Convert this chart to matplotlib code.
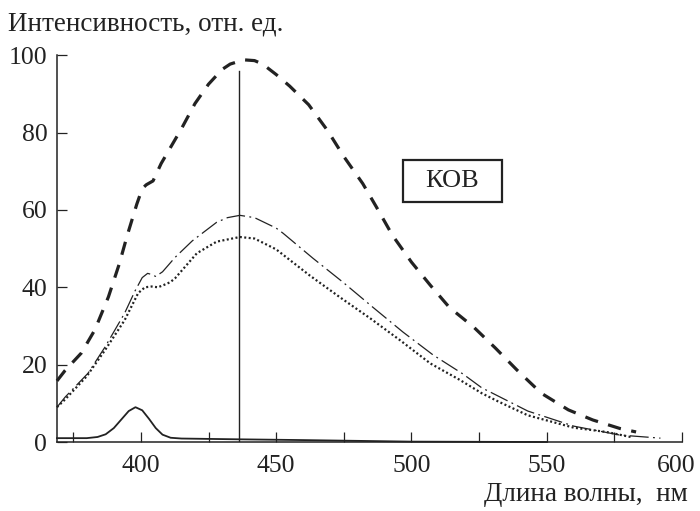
# emission spectra, KOV sample

import matplotlib.pyplot as plt
import matplotlib.transforms as mtransforms
from matplotlib.patches import Rectangle

plt.rcParams['font.family'] = ['Liberation Serif', 'DejaVu Serif']

# thick dashed curve
dash_x = [369, 372, 378, 383, 388, 392, 395, 398.5, 400.5, 402, 404.5, 407.5, 410, 415, 420, 425,
          430, 433, 438, 442, 445, 450, 455, 462, 469, 475, 482, 487, 493, 500, 507, 514, 523,
          531, 539, 548, 558, 567, 577, 583]
dash_y = [15.8, 18.5, 23, 29, 37.5, 46, 53.5, 61.5, 65.5, 66.5, 67.5, 72, 75, 81, 87.5, 92.5,
          96.3, 97.7, 98.8, 98.6, 97.7, 95, 92, 87.2, 80.5, 73.8, 66.8, 60.8, 53.4, 46.5, 40.5,
          34.8, 29.7, 24.3, 18.6, 12.6, 8.3, 5.7, 3.5, 2.6]

# dash-dot curve
dd_x = [369, 372, 380.5, 386.7, 394, 397.8, 400.5, 402.5, 404, 405.5, 408, 410, 412.6, 419, 428,
        432, 436.6, 442, 450, 452.5, 463.6, 474.7, 485.8, 496.9, 508, 519, 526, 530, 543, 560,
        577, 592]
dd_y = [9, 11.6, 17.8, 24.5, 33.3, 39, 42.5, 43.6, 43.3, 42.8, 44, 45.6, 47.7, 52, 56.8, 58,
        58.6, 58, 55.3, 54, 47.5, 41.3, 34.8, 28.4, 22.5, 17.6, 14, 12.6, 8, 4.1, 1.8, 1.0]

# dotted curve
dot_x = [369, 372, 380, 386.7, 394, 399, 401.5, 404, 406.3, 408.5, 410.8, 412.6, 420.7, 428,
         436.6, 442, 450, 462.5, 473.6, 484.7, 495.8, 507, 518, 526, 532, 543, 560, 572, 581]
dot_y = [9, 11, 17, 23.7, 31.5, 38.5, 40, 40.2, 40, 40.6, 41.3, 42.3, 48.8, 51.8, 53, 52.6,
         49.8, 43, 37.4, 32, 26.3, 20.3, 16, 12.6, 10.5, 6.9, 3.7, 2.6, 1.3]

# thin solid curve (excitation line)
sol_x = [369, 380, 384, 387, 390, 393, 395.5, 398, 400.5, 403, 405.5, 408, 411, 415, 436, 460,
         480, 500, 550]
sol_y = [1.0, 1.0, 1.3, 2.0, 3.6, 6.0, 8.0, 9.0, 8.2, 6.0, 3.6, 1.9, 1.1, 0.9, 0.7, 0.5, 0.3,
         0.1, 0.0]

peak_x = 436.4
peak_top = 96

fig = plt.figure(figsize=(7, 5.11), dpi=100)
ax = fig.add_axes([0.0814, 0.135, 0.893, 0.757])

ink = '#222222'
ax.plot(dash_x, dash_y, color=ink, lw=2.3, dashes=(4.2, 3.3), clip_on=False)
ax.plot(dd_x, dd_y, color=ink, lw=0.9, dashes=(15, 3.5, 1.5, 3.5), clip_on=False)
ax.plot(dot_x, dot_y, color=ink, lw=1.6, dashes=(0.9, 1.1), clip_on=False)
ax.plot(sol_x, sol_y, color=ink, lw=1.3, clip_on=False)
ax.plot([peak_x, peak_x], [0, peak_top], color=ink, lw=1.0)

ax.set_xlim(369, 600)
ax.set_ylim(0, 100)
ax.spines['top'].set_visible(False)
ax.spines['right'].set_visible(False)
for s in ('left', 'bottom'):
    ax.spines[s].set_linewidth(1.1)
    ax.spines[s].set_color(ink)

ax.set_xticks([400, 450, 500, 550, 600])
ax.set_xticks([375, 425, 475, 525, 575], minor=True)
ax.set_yticks([0, 20, 40, 60, 80, 100])
ax.tick_params(which='both', direction='in', length=7, width=0.9, color=ink,
               labelsize=18.5, labelcolor=ink)
ax.tick_params(axis='x', which='major', pad=9)
ax.tick_params(axis='y', which='major', pad=7)

# keep the last x label inside the figure
last = ax.get_xticklabels()[-1]
last.set_transform(last.get_transform() +
                   mtransforms.ScaledTranslation(-4 / 72, 0, fig.dpi_scale_trans))

fig.text(0.012, 0.953, 'Интенсивность, отн. ед.', fontsize=19.5, color=ink,
         ha='left', va='center')
fig.text(0.983, 0.032, 'Длина волны,  нм', fontsize=19.5, color=ink,
         ha='right', va='center')

# label box
ax.add_patch(Rectangle((0.553, 0.62), 0.159, 0.11, transform=ax.transAxes,
                       fill=False, lw=1.6, edgecolor=ink))
ax.text(0.6325, 0.675, 'КОВ', transform=ax.transAxes, fontsize=19, color=ink,
        ha='center', va='center')

fig.savefig('out.png', dpi=100)
